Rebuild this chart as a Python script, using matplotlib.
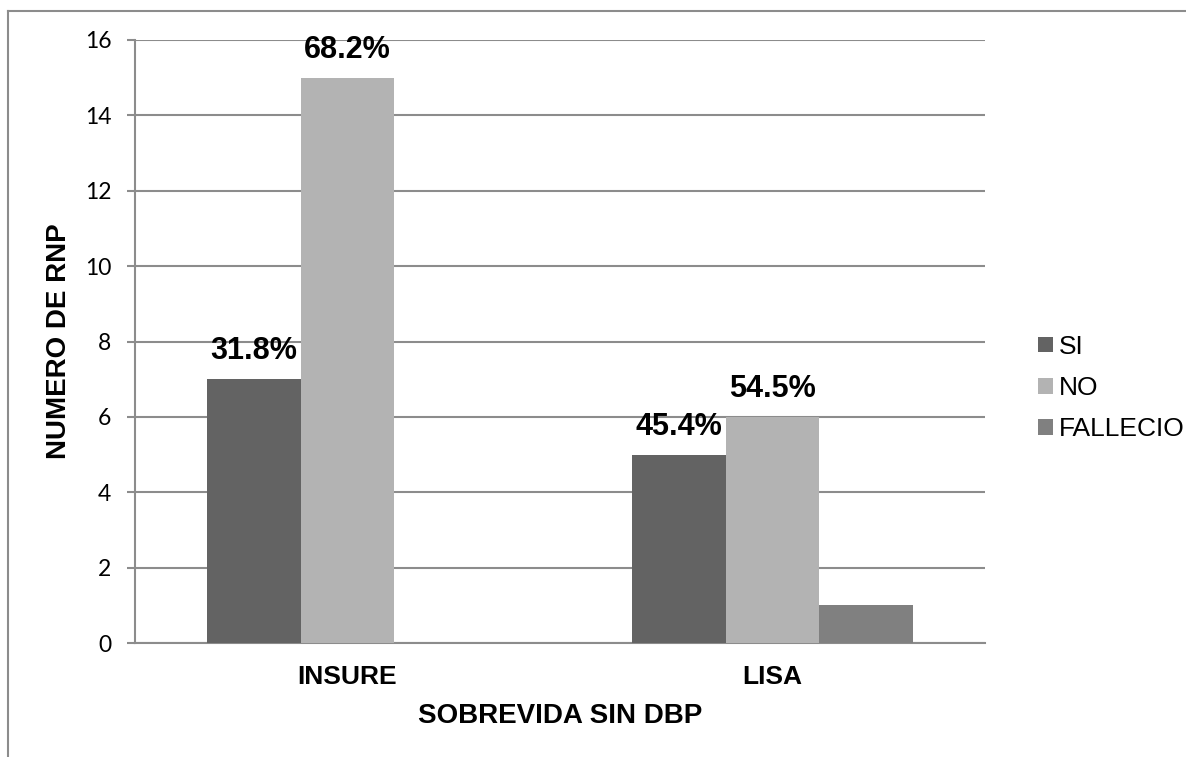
import numpy as np
import matplotlib
matplotlib.use("Agg")
import matplotlib.pyplot as plt
from matplotlib.lines import Line2D

# data
groups = ["INSURE", "LISA"]
series = ["SI", "NO", "FALLECIO"]
si = [7, 5]
no = [15, 6]
fallecio = [0, 1]
pct_labels = {"SI": ["31.8%", "45.4%"], "NO": ["68.2%", "54.5%"]}

colors = ["#636363", "#b3b3b3", "#808080"]
grid_c = "#8c8c8c"
W, H = 1186, 757

fig = plt.figure(figsize=(W / 100, H / 100), dpi=100)
ax = fig.add_axes([135 / W, 1 - 643 / H, 850 / W, 603 / H])

x = np.arange(len(groups))
w = 0.22
vals = [si, no, fallecio]
bars = []
for i, (name, v) in enumerate(zip(series, vals)):
    b = ax.bar(x + (i - 1) * w, v, w, color=colors[i], label=name, zorder=3)
    bars.append(b)

# percentage labels above the SI / NO bars
for i, name in enumerate(["SI", "NO"]):
    for j, rect in enumerate(bars[i]):
        ax.annotate(pct_labels[name][j],
                    (rect.get_x() + rect.get_width() / 2, rect.get_height()),
                    xytext=(0, 20), textcoords="offset points",
                    ha="center", va="center", fontsize=22, fontweight="bold",
                    family="Liberation Sans")

ax.set_xlim(-0.5, 1.5)
ax.set_ylim(0, 16)
ax.set_yticks(range(0, 17, 2))
ax.set_xticks(x)
ax.set_xticklabels(groups, fontsize=19, fontweight="bold", family="Liberation Sans")
ax.tick_params(axis="x", length=0, pad=16)
ax.tick_params(axis="y", length=6, width=1.5, color=grid_c, labelsize=16.5, pad=11)
for lbl in ax.get_yticklabels():
    lbl.set_family("Lato")
ax.grid(axis="y", color=grid_c, linewidth=1.5, zorder=0)
ax.set_axisbelow(True)
for s in ["top", "right"]:
    ax.spines[s].set_visible(False)
for s in ["left", "bottom"]:
    ax.spines[s].set_color(grid_c)
    ax.spines[s].set_linewidth(1.5)

ax.set_xlabel("SOBREVIDA SIN DBP", fontsize=20, fontweight="bold",
              family="Liberation Sans", labelpad=10)
ax.set_ylabel("NUMERO DE RNP", fontsize=20, fontweight="bold",
              family="Liberation Sans", labelpad=9)

leg = fig.legend(loc="center left", bbox_to_anchor=(1025 / W, 1 - 388 / H),
                 frameon=False, borderpad=0,
                 prop={"family": "Liberation Sans", "size": 19},
                 handlelength=0.55, handleheight=0.55, handletextpad=0.25,
                 labelspacing=0.65)

# outer chart border (top and left)
fig.add_artist(Line2D([8 / W, 1], [1 - 11 / H, 1 - 11 / H],
                      transform=fig.transFigure, color=grid_c, linewidth=1.5))
fig.add_artist(Line2D([8 / W, 8 / W], [0, 1 - 11 / H],
                      transform=fig.transFigure, color=grid_c, linewidth=1.5))

fig.savefig("out.png", dpi=100)
